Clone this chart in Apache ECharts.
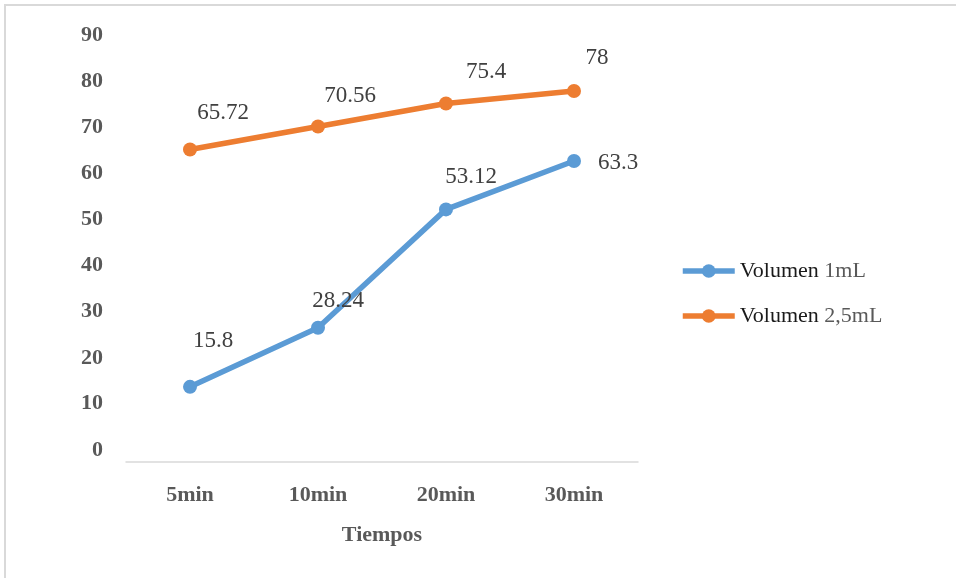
<!DOCTYPE html>
<html>
<head>
<meta charset="utf-8">
<script src="https://cdn.jsdelivr.net/npm/echarts@6/dist/echarts.min.js"></script>
<style>
  html, body { margin: 0; padding: 0; background: #ffffff; }
  #chart { width: 956px; height: 578px; }
</style>
</head>
<body>
<div id="chart"></div>
<script>
// Time points and measured values for each volume
const categories = ['5min', '10min', '20min', '30min'];
const volumen1 = [15.8, 28.24, 53.12, 63.3];
const volumen25 = [65.72, 70.56, 75.4, 78];
const yTicks = [0, 10, 20, 30, 40, 50, 60, 70, 80, 90];

// Hand-placed value label offsets (relative to each marker centre)
const offsets1 = [[23, -46], [20, -27], [25, -32], [44, 2]];
const offsets25 = [[33, -37], [32, -30], [40, -31], [23, -33]];

const SERIF = '"Liberation Serif", "Times New Roman", serif';

// Y labels sit on a slightly tighter spacing than the gridlines
const yRich = {};
yTicks.forEach(v => {
  const s = Math.round(1 - (90 - v) * 0.146);
  const pad = s < 0 ? [0, 0, -2 * s, 0] : [2 * s, 0, 0, 0];
  yRich['v' + v] = {
    fontFamily: SERIF, fontWeight: 'bold', fontSize: 22, color: '#595959',
    padding: pad
  };
});

function buildData(values, offsets) {
  return values.map((v, i) => ({
    value: v,
    label: { offset: offsets[i] }
  }));
}

const chart = echarts.init(document.getElementById('chart'), null, { renderer: 'canvas' });

const labelStyle = {
  show: true,
  position: 'inside',
  fontFamily: SERIF,
  fontSize: 23,
  color: '#404040',
  formatter: p => String(p.value)
};

chart.setOption({
  backgroundColor: '#ffffff',
  animation: false,
  graphic: [{
    type: 'rect',
    shape: { x: 5, y: 5, width: 2000, height: 2000 },
    style: { fill: 'none', stroke: '#d9d9d9', lineWidth: 2 },
    silent: true
  }],
  grid: { left: 126, right: 318, top: 34, bottom: 116, containLabel: false },
  legend: {
    orient: 'vertical',
    left: 680,
    top: 260,
    padding: 0,
    itemWidth: 52,
    itemHeight: 17,
    itemGap: 23,
    itemTextGap: 6,
    lineStyle: { width: 5.5 },
    data: ['Volumen 1mL', 'Volumen 2,5mL'],
    formatter: name => {
      const idx = name.indexOf(' ');
      return '{word|' + name.slice(0, idx) + '} {unit|' + name.slice(idx + 1) + '}';
    },
    textStyle: {
      fontFamily: SERIF,
      fontSize: 22,
      rich: {
        word: { fontFamily: SERIF, fontWeight: 'normal', fontSize: 22, color: '#1a1a1a', lineHeight: 24 },
        unit: { fontFamily: SERIF, fontWeight: 'normal', fontSize: 22, color: '#595959', lineHeight: 24 }
      }
    }
  },
  xAxis: {
    type: 'category',
    data: categories,
    boundaryGap: true,
    name: 'Tiempos',
    nameLocation: 'middle',
    nameGap: 62,
    nameTextStyle: { fontFamily: SERIF, fontWeight: 'bold', fontSize: 22, color: '#595959' },
    axisLine: { show: true, lineStyle: { color: '#d9d9d9', width: 1.5 } },
    axisTick: { show: false },
    axisLabel: { fontFamily: SERIF, fontWeight: 'bold', fontSize: 22, color: '#595959', margin: 22 },
    splitLine: { show: false }
  },
  yAxis: {
    type: 'value',
    min: 0,
    max: 90,
    interval: 10,
    axisLine: { show: false },
    axisTick: { show: false },
    splitLine: { show: false },
    axisLabel: {
      margin: 23,
      formatter: v => '{v' + v + '|' + v + '}',
      rich: yRich
    }
  },
  series: [
    {
      name: 'Volumen 1mL',
      type: 'line',
      data: buildData(volumen1, offsets1),
      symbol: 'circle',
      symbolSize: 14,
      itemStyle: { color: '#5B9BD5' },
      lineStyle: { color: '#5B9BD5', width: 5.5 },
      label: labelStyle
    },
    {
      name: 'Volumen 2,5mL',
      type: 'line',
      data: buildData(volumen25, offsets25),
      symbol: 'circle',
      symbolSize: 14,
      itemStyle: { color: '#ED7D31' },
      lineStyle: { color: '#ED7D31', width: 5.5 },
      label: labelStyle
    }
  ]
});
</script>
</body>
</html>
